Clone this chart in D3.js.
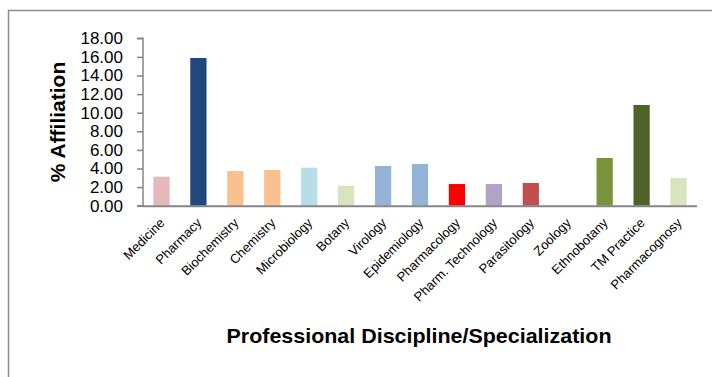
<!DOCTYPE html>
<html>
<head>
<meta charset="utf-8">
<script src="https://cdn.jsdelivr.net/npm/d3@7"></script>
<style>
  html, body { margin: 0; padding: 0; background: #fff; }
  svg { display: block; }
</style>
</head>
<body>
<svg id="chart" width="713" height="377"></svg>
<script>
const categories = ["Medicine", "Pharmacy", "Biochemistry", "Chemistry", "Microbiology", "Botany", "Virology", "Epidemiology", "Pharmacology", "Pharm. Technology", "Parasitology", "Zoology", "Ethnobotany", "TM Practice", "Pharmacognosy"];
const values = [3.12, 15.88, 3.73, 3.84, 4.09, 2.15, 4.27, 4.48, 2.33, 2.33, 2.44, 0, 5.13, 10.83, 2.98];
const colors = ["#E6B9B8", "#1F497D", "#FAC090", "#FAC090", "#B7DEE8", "#D7E4BD", "#95B3D7", "#95B3D7", "#FF0000", "#B3A2C7", "#C0504D", "#D7E4BD", "#77933C", "#4F6228", "#D7E4BD"];
const yTicks = [0, 2, 4, 6, 8, 10, 12, 14, 16, 18];
const yTitle = "% Affiliation";
const xTitle = "Professional Discipline/Specialization";

(function () {
const svg = d3.select("#chart");
const font = "'Liberation Sans', Arial, sans-serif";

// outer frame (left and top edges visible)
svg.append("path")
  .attr("d", "M8.5,377 L8.5,10.5 L712,10.5")
  .attr("fill", "none")
  .attr("stroke", "#8C8C8C")
  .attr("stroke-width", 1.5);

const pLeft = 143, pRight = 697, pTop = 38.3, pBottom = 205.7;

const x = d3.scaleBand().domain(categories).range([pLeft, pRight]).paddingInner(0.56).paddingOuter(0.28);
const y = d3.scaleLinear().domain([0, 18]).range([pBottom, pTop]);

// bars
svg.append("g").selectAll("rect")
  .data(categories)
  .join("rect")
  .attr("x", d => x(d))
  .attr("width", x.bandwidth())
  .attr("y", (d, i) => y(values[i]))
  .attr("height", (d, i) => y(0) - y(values[i]))
  .attr("fill", (d, i) => colors[i]);

// y axis
const yAxis = svg.append("g")
  .attr("transform", `translate(${pLeft},0)`)
  .call(d3.axisLeft(y).tickValues(yTicks).tickFormat(d3.format(".2f")).tickSize(6).tickPadding(14));
yAxis.select(".domain").attr("stroke", "#868686").attr("stroke-width", 1.5).attr("d", `M-6,${pTop}H0V${pBottom}H-6`);
yAxis.selectAll(".tick line").attr("stroke", "#868686").attr("stroke-width", 1.5);
yAxis.selectAll(".tick text").attr("font-family", font).attr("font-size", "17px").attr("fill", "#000");

// x axis
const xAxis = svg.append("g")
  .attr("transform", `translate(0,${pBottom})`)
  .call(d3.axisBottom(x).tickSize(0).tickPadding(0));
xAxis.select(".domain").attr("stroke", "#868686").attr("stroke-width", 2).attr("d", `M${pLeft},0.5H${pRight}`);
xAxis.selectAll(".tick text")
  .attr("font-family", font)
  .attr("font-size", "13px")
  .attr("fill", "#000")
  .attr("text-anchor", "end")
  .attr("dy", null)
  .attr("y", 0)
  .attr("transform", "translate(4,18) rotate(-45)");

// axis titles
svg.append("text")
  .attr("transform", `translate(65,122) rotate(-90)`)
  .attr("text-anchor", "middle")
  .attr("font-family", font)
  .attr("font-weight", "bold")
  .attr("font-size", "21px")
  .attr("fill", "#000")
  .text(yTitle);

svg.append("text")
  .attr("x", 419)
  .attr("y", 343)
  .attr("text-anchor", "middle")
  .attr("font-family", font)
  .attr("font-weight", "bold")
  .attr("font-size", "21px")
  .attr("textLength", 385)
  .attr("lengthAdjust", "spacingAndGlyphs")
  .attr("fill", "#000")
  .text(xTitle);
})();
</script>
</body>
</html>
